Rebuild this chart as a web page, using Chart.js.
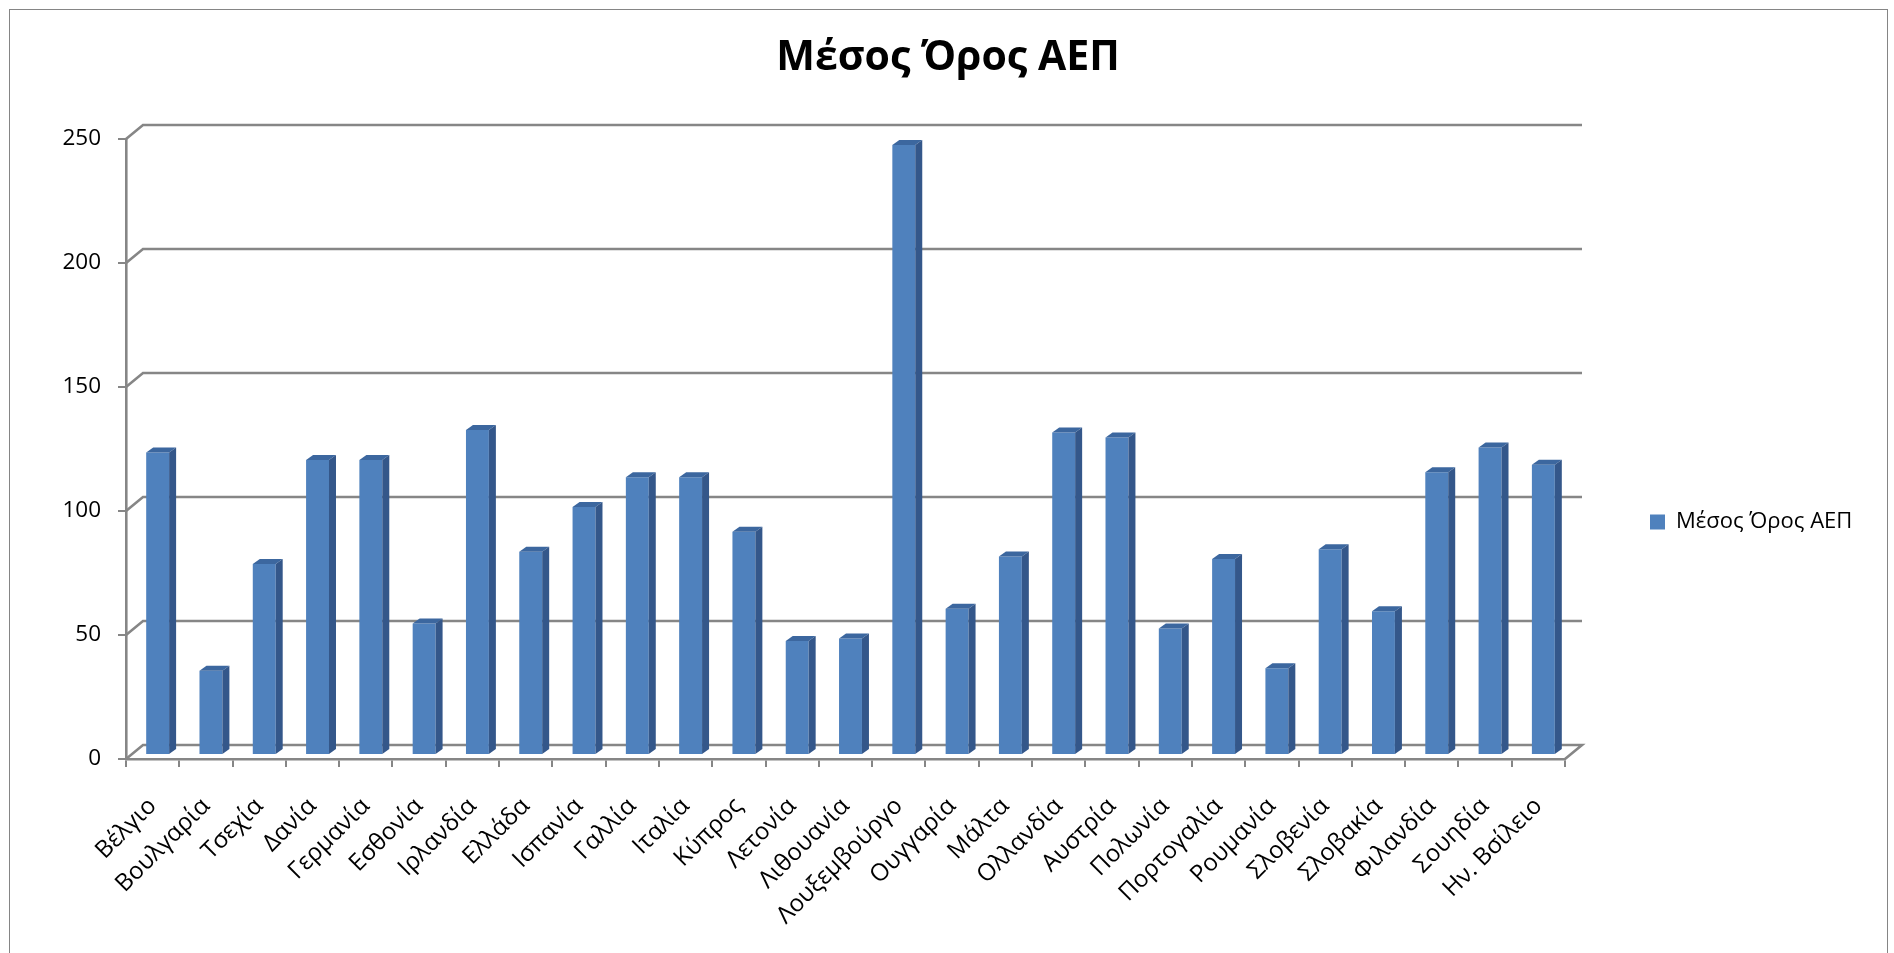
<!DOCTYPE html>
<html lang="el">
<head>
  <meta charset="UTF-8" />
  <title>Μέσος Όρος ΑΕΠ</title>
  <script src="https://cdn.jsdelivr.net/npm/chart.js"></script>
  <style>
    html, body {
      margin: 0;
      padding: 0;
      background: #fff;
      overflow: hidden;
    }
    #frame {
      position: absolute;
      left: 9px;
      top: 9px;
      width: 1877px;
      height: 1000px;
      border: 1px solid #858585;
    }
    #wrap {
      position: absolute;
      left: 0;
      top: 0;
      width: 1894px;
      height: 953px;
    }
  </style>
</head>
<body>
  <div id="frame"></div>
  <div id="wrap"><canvas id="gdpChart" width="1894" height="953"></canvas></div>

  <script>
    const countries = [
      'Βέλγιο', 'Βουλγαρία', 'Τσεχία', 'Δανία', 'Γερμανία', 'Εσθονία', 'Ιρλανδία',
      'Ελλάδα', 'Ισπανία', 'Γαλλία', 'Ιταλία', 'Κύπρος', 'Λετονία', 'Λιθουανία',
      'Λουξεμβούργο', 'Ουγγαρία', 'Μάλτα', 'Ολλανδία', 'Αυστρία', 'Πολωνία',
      'Πορτογαλία', 'Ρουμανία', 'Σλοβενία', 'Σλοβακία', 'Φιλανδία', 'Σουηδία', 'Ην. Βσίλειο'
    ];
    const gdpAvg = [
      122, 34, 77, 119, 119, 53, 131,
      82, 100, 112, 112, 90, 46, 47,
      246, 59, 80, 130, 128, 51,
      79, 35, 83, 58, 114, 124, 117
    ];
    const yTicks = [0, 50, 100, 150, 200, 250];
    const seriesName = 'Μέσος Όρος ΑΕΠ';

    // back wall offset and bar depth
    const WALL_DX = 17, WALL_DY = 14;
    const BAR_DX = 7, BAR_DY = 5;
    const BAR_SHIFT_X = 5, BAR_SHIFT_Y = -4;
    const GRID_COLOR = '#868686';

    const fake3d = {
      id: 'fake3d',
      beforeDatasetsDraw(chart) {
        const { ctx, chartArea: a, scales: { y } } = chart;
        ctx.save();
        ctx.strokeStyle = GRID_COLOR;
        ctx.lineWidth = 2.6;
        y.ticks.forEach(t => {
          const py = y.getPixelForValue(t.value);
          ctx.beginPath();
          ctx.moveTo(a.left, py);
          ctx.lineTo(a.left + WALL_DX, py - WALL_DY);
          ctx.lineTo(a.right + WALL_DX, py - WALL_DY);
          if (t.value === 0) ctx.lineTo(a.right, py);
          ctx.stroke();
        });
        ctx.restore();
        ctx.save();
        ctx.translate(BAR_SHIFT_X, BAR_SHIFT_Y);
      },
      afterDatasetsDraw(chart) {
        const { ctx } = chart;
        chart.getDatasetMeta(0).data.forEach(bar => {
          const { x, y, base, width } = bar.getProps(['x', 'y', 'base', 'width'], true);
          const l = x - width / 2, r = x + width / 2;
          ctx.fillStyle = '#3c679f';
          ctx.beginPath();
          ctx.moveTo(l, y);
          ctx.lineTo(l + BAR_DX, y - BAR_DY);
          ctx.lineTo(r + BAR_DX, y - BAR_DY);
          ctx.lineTo(r, y);
          ctx.closePath();
          ctx.fill();
          ctx.fillStyle = '#34578a';
          ctx.beginPath();
          ctx.moveTo(r, y);
          ctx.lineTo(r + BAR_DX, y - BAR_DY);
          ctx.lineTo(r + BAR_DX, base - BAR_DY);
          ctx.lineTo(r, base);
          ctx.closePath();
          ctx.fill();
        });
        ctx.restore();
      }
    };

    const fontFamily = "'Open Sans', 'Noto Sans', sans-serif";

    new Chart(document.getElementById('gdpChart'), {
      type: 'bar',
      data: {
        labels: countries,
        datasets: [{
          label: seriesName,
          data: gdpAvg,
          backgroundColor: '#4f81bd',
          borderWidth: 0,
          categoryPercentage: 1,
          barPercentage: 0.43
        }]
      },
      options: {
        responsive: false,
        devicePixelRatio: 1,
        animation: false,
        layout: { padding: { left: 37, right: 35, top: 0, bottom: 0 } },
        plugins: {
          title: {
            display: true,
            text: seriesName,
            color: '#000',
            font: { family: fontFamily, size: 41, weight: 'bold' },
            padding: { top: 33.4, bottom: 56.4 }
          },
          legend: {
            position: 'right',
            align: 'center',
            maxWidth: 294,
            title: { display: true, text: '', padding: 39.5, font: { size: 10 } },
            labels: {
              boxWidth: 15,
              boxHeight: 15,
              padding: 85,
              color: '#000',
              font: { family: fontFamily, size: 22 }
            }
          },
          tooltip: { enabled: false }
        },
        scales: {
          x: {
            offset: true,
            grid: { offset: true, drawOnChartArea: false, tickLength: 8, color: GRID_COLOR, lineWidth: 2 },
            border: { display: true, color: GRID_COLOR, width: 2.6 },
            ticks: {
              autoSkip: false,
              minRotation: 45,
              maxRotation: 45,
              padding: 25,
              labelOffset: 0,
              color: '#000',
              font: { family: fontFamily, size: 24 }
            },
            afterFit: s => { s.height = 953 - 759; }
          },
          y: {
            min: 0,
            max: 250,
            afterBuildTicks: s => { s.ticks = yTicks.map(v => ({ value: v })); },
            grid: { drawOnChartArea: false, tickLength: 8, color: GRID_COLOR, lineWidth: 2 },
            border: { display: true, color: GRID_COLOR, width: 2.6 },
            ticks: {
              padding: 17,
              color: '#000',
              font: { family: fontFamily, size: 22.5 }
            },
            afterFit: s => { s.width = 126 - 37; }
          }
        }
      },
      plugins: [fake3d]
    });
  </script>
</body>
</html>
